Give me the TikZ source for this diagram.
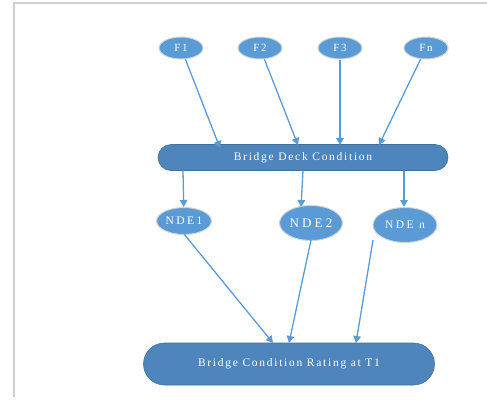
\documentclass[tikz,border=0pt]{standalone}
\usepackage{fontspec}
\setmainfont{Liberation Serif}
\usetikzlibrary{shapes.geometric,shapes.misc,arrows.meta}
\newfontfamily\lsA[LetterSpace=15]{Liberation Serif}
\newfontfamily\lsB[LetterSpace=22]{Liberation Serif}
\newfontfamily\lsC[LetterSpace=24]{Liberation Serif}
\newfontfamily\lsD[LetterSpace=15]{Liberation Serif}
\definecolor{lightblue}{HTML}{5B9BD5}
\definecolor{darkblue}{HTML}{4E85BC}
\definecolor{edgeblue}{HTML}{41719C}
\definecolor{glow}{HTML}{D4D4D4}
\definecolor{framegray}{HTML}{D0D0D0}
\tikzset{
  fnode/.style={ellipse, fill=lightblue, draw=glow, line width=1pt, inner sep=0pt,
    text=white, font=\lsD\fontsize{11}{13}\selectfont},
  ndenode/.style={ellipse, fill=lightblue, draw=glow, line width=1pt, inner sep=0pt,
    text=white, font=\lsB\fontsize{11.5}{13}\selectfont},
  pill/.style={rounded rectangle, fill=darkblue, draw=edgeblue, line width=0.6pt, inner sep=0pt,
    text=white, font=\lsA\fontsize{11.5}{13}\selectfont},
  conn/.style={draw=lightblue, line width=1.3pt, -{Triangle[width=7.5pt,length=7pt]}}
}
\begin{document}
\begin{tikzpicture}[x=1pt,y=-1pt]
\useasboundingbox (0,0) rectangle (487,399);
\draw[framegray, line width=1.2pt] (14,397) -- (14,3) -- (487,3);

\node[fnode, minimum width=44pt, minimum height=22pt] (F1) at (181,48) {F1};
\node[fnode, minimum width=44pt, minimum height=22pt] (F2) at (260,48) {F2};
\node[fnode, minimum width=44pt, minimum height=22pt] (F3) at (340,48) {F3};
\node[fnode, minimum width=44pt, minimum height=22pt] (Fn) at (426,48) {Fn};

\node[pill, minimum width=290pt, minimum height=26pt] (deck) at (303,157.5) {Bridge Deck Condition};

\node[ndenode, minimum width=55pt, minimum height=27pt] (N1) at (184,221) {NDE1};
\node[ndenode, minimum width=63pt, minimum height=35pt, font=\lsC\fontsize{13}{15}\selectfont] (N2) at (311,223) {NDE2};
\node[ndenode, minimum width=64pt, minimum height=35pt] (Nn) at (405,225) {NDE n};

\node[pill, minimum width=291pt, minimum height=42pt] (rating) at (289,364) {Bridge Condition Rating at T1};

% arrow ends on the deck
\coordinate (d1) at (220,148);
\coordinate (d2) at (298,145);
\coordinate (d3) at (340,145);
\coordinate (d4) at (379,145);
\draw[conn] (F1) -- (d1);
\draw[conn] (F2) -- (d2);
\draw[conn] (F3) -- (d3);
\draw[conn] (Fn) -- (d4);

% from the deck to the NDE nodes
\coordinate (s1) at (183,170.5);
\coordinate (s2) at (303,170.5);
\coordinate (e2) at (301,207);
\coordinate (s3) at (404,170.5);
\coordinate (e3) at (404,207);
\draw[conn] (s1) -- (N1);
\draw[conn] (s2) -- (e2);
\draw[conn] (s3) -- (e3);

% to the rating
\coordinate (t1) at (273,343);
\coordinate (t2) at (289,343);
\coordinate (t3) at (356,343);
\coordinate (u1) at (184,234);
\coordinate (u2) at (311,240);
\coordinate (u3) at (373,240);
\draw[conn] (u1) -- (t1);
\draw[conn] (u2) -- (t2);
\draw[conn] (u3) -- (t3);
\end{tikzpicture}
\end{document}
